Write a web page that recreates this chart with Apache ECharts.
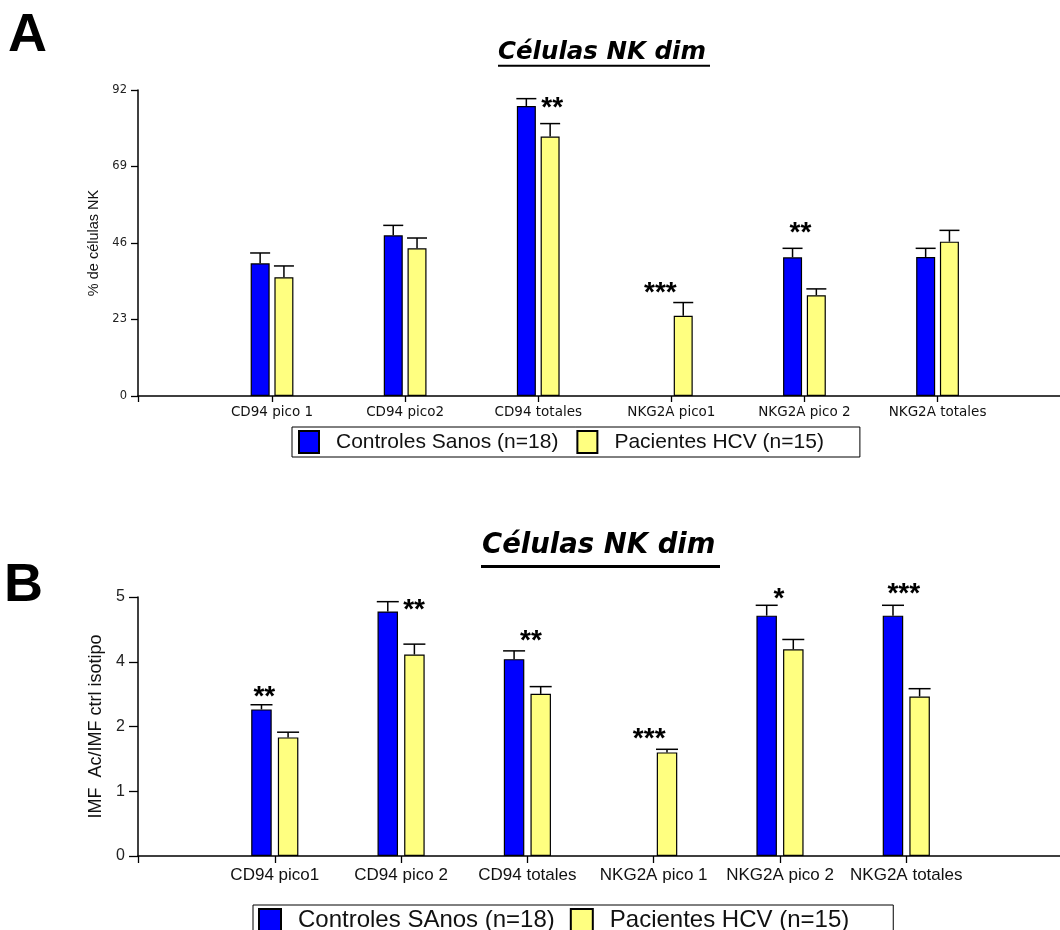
<!DOCTYPE html>
<html><head><meta charset="utf-8">
<script src="https://cdn.jsdelivr.net/npm/echarts@6/dist/echarts.min.js"></script>
<style>html,body{margin:0;padding:0;background:#fff}#c{width:1060px;height:930px}</style>
</head><body><div id="c"></div>
<script>
// ---------- Panel A data ----------
const categoriesA = ['CD94 pico 1', 'CD94 pico2', 'CD94 totales', 'NKG2A pico1', 'NKG2A pico 2', 'NKG2A totales'];
const controlsA = [39.9, 48.3, 87.2, null, 41.7, 41.8];
const controlsErrA = [3.1, 3.0, 2.2, null, 2.7, 2.6];
const patientsA = [35.7, 44.4, 78.0, 24.1, 30.3, 46.4];
const patientsErrA = [3.4, 3.1, 3.9, 4.0, 1.9, 3.4];
const sigA = ['', '', '**', '***', '**', ''];
const yTicksA = ['0', '23', '46', '69', '92'];
const namesA = ['Controles Sanos (n=18)', 'Pacientes HCV (n=15)'];

// ---------- Panel B data ----------
const categoriesB = ['CD94 pico1', 'CD94 pico 2', 'CD94 totales', 'NKG2A pico 1', 'NKG2A pico 2', 'NKG2A totales'];
const controlsB = [2.83, 4.72, 3.80, null, 4.64, 4.64];
const controlsErrB = [0.09, 0.19, 0.16, null, 0.20, 0.20];
const patientsB = [2.29, 3.89, 3.13, 2.00, 3.99, 3.08];
const patientsErrB = [0.10, 0.20, 0.14, 0.06, 0.19, 0.15];
const sigB = ['**', '**', '**', '***', '*', '***'];
const yTicksB = ['0', '1', '2', '4', '5'];
const namesB = ['Controles SAnos (n=18)', 'Pacientes HCV (n=15)'];

const title = 'Células NK dim';
const yNameA = '% de células NK';
const yNameB = 'IMF  Ac/IMF ctrl isotipo';

// ---------- layout / style ----------
const BLUE = '#0000ff', YELLOW = '#ffff80';
const SANS = "'Liberation Sans', Arial, sans-serif";
const WIDE = "'DejaVu Sans', sans-serif";

const panels = [
  { cats: categoriesA, ctrl: controlsA, ctrlErr: controlsErrA, pat: patientsA, patErr: patientsErrA,
    sig: sigA, yTicks: yTicksA, names: namesA, yName: yNameA,
    grid: { left: 138, top: 90, width: 922, height: 306 },
    xMin: -1.007, xMax: 5.92, yMax: 92, yInt: 23,
    barWidth: 19, barGap: '25%', off: 11.9, cap: 10,
    sigOff: [[0, 0], [0, 0], [14, 10], [-11, -9], [-4, -15], [0, 0]],
    xLabel: { fontFamily: WIDE, fontSize: 13.5, margin: 9 },
    yLabel: { fontFamily: WIDE, fontSize: 11.5, margin: 11 },
    yNameStyle: { fontFamily: SANS, fontSize: 14.5, gap: 36 },
    xTickLen: 6, yTickLen: 7 },
  { cats: categoriesB, ctrl: controlsB, ctrlErr: controlsErrB, pat: patientsB, patErr: patientsErrB,
    sig: sigB, yTicks: yTicksB, names: namesB, yName: yNameB,
    grid: { left: 138, top: 597, width: 922, height: 259 },
    xMin: -1.083, xMax: 6.217, yMax: 5, yInt: 1.25,
    barWidth: 20.5, barGap: '30%', off: 13.3, cap: 11,
    sigOff: [[-10.5, -7], [13, 8.4], [3.5, -10], [-4.5, -10], [-1, -6], [-2.5, -10.7]],
    xLabel: { fontFamily: SANS, fontSize: 17, margin: 11 },
    yLabel: { fontFamily: SANS, fontSize: 16, margin: 13 },
    yNameStyle: { fontFamily: SANS, fontSize: 18, gap: 33 },
    xTickLen: 7, yTickLen: 9 }
];

const grids = [], xAxes = [], yAxes = [], series = [];
panels.forEach((p, gi) => {
  grids.push(Object.assign({ containLabel: false }, p.grid));
  const idx = p.cats.map((c, i) => i);
  xAxes.push({
    type: 'value', gridIndex: gi, min: p.xMin, max: p.xMax,
    splitLine: { show: false },
    axisLine: { show: true, onZero: false, lineStyle: { color: '#000', width: 1.5 } },
    axisTick: { show: true, length: p.xTickLen, customValues: [p.xMin].concat(idx), lineStyle: { color: '#000', width: 1.3 } },
    axisLabel: { customValues: idx, formatter: v => p.cats[Math.round(v)], color: '#111',
      fontFamily: p.xLabel.fontFamily, fontSize: p.xLabel.fontSize, margin: p.xLabel.margin }
  });
  yAxes.push({
    type: 'value', gridIndex: gi, min: 0, max: p.yMax, interval: p.yInt, position: 'left',
    splitLine: { show: false },
    axisLine: { show: true, onZero: false, lineStyle: { color: '#000', width: 1.5 } },
    axisTick: { show: true, length: p.yTickLen, lineStyle: { color: '#000', width: 1.3 } },
    axisLabel: { formatter: v => p.yTicks[Math.round(v / p.yInt)], color: '#222',
      fontFamily: p.yLabel.fontFamily, fontSize: p.yLabel.fontSize, margin: p.yLabel.margin },
    name: p.yName, nameLocation: 'middle', nameRotate: 90, nameGap: p.yNameStyle.gap,
    nameTextStyle: { fontFamily: p.yNameStyle.fontFamily, fontSize: p.yNameStyle.fontSize, color: '#111' }
  });
  const mk = (vals, color, name) => ({
    type: 'bar', name, xAxisIndex: gi, yAxisIndex: gi,
    barWidth: p.barWidth, barGap: p.barGap,
    itemStyle: { color, borderColor: '#000', borderWidth: 1.2 },
    data: vals.map((v, i) => [i, v == null ? '-' : v]),
    silent: true, animation: false
  });
  series.push(mk(p.ctrl, BLUE, p.names[0]));
  series.push(mk(p.pat, YELLOW, p.names[1]));
  const errSeries = (vals, errs, dx) => ({
    type: 'custom', xAxisIndex: gi, yAxisIndex: gi, z: 5, silent: true, animation: false,
    data: vals.map((v, i) => v == null ? null : [i, v, errs[i]]).filter(d => d),
    renderItem: (params, api) => {
      const x = api.value(0), m = api.value(1), e = api.value(2);
      const p0 = api.coord([x, m]), p1 = api.coord([x, m + e]);
      const cx = p0[0] + dx;
      return { type: 'group', children: [
        { type: 'line', shape: { x1: cx, y1: p0[1], x2: cx, y2: p1[1] }, style: { stroke: '#000', lineWidth: 1.5 } },
        { type: 'line', shape: { x1: cx - p.cap, y1: p1[1], x2: cx + p.cap, y2: p1[1] }, style: { stroke: '#000', lineWidth: 1.5 } }
      ] };
    }
  });
  series.push(errSeries(p.ctrl, p.ctrlErr, -p.off));
  series.push(errSeries(p.pat, p.patErr, p.off));
  // significance asterisks anchored at the top of the highest error bar of each group
  const tops = p.cats.map((c, i) => Math.max(
    p.ctrl[i] == null ? 0 : p.ctrl[i] + p.ctrlErr[i],
    p.pat[i] == null ? 0 : p.pat[i] + p.patErr[i]));
  series.push({
    type: 'custom', xAxisIndex: gi, yAxisIndex: gi, z: 6, silent: true, animation: false,
    data: p.sig.map((s, i) => s ? [i, tops[i]] : null).filter(d => d),
    renderItem: (params, api) => {
      const i = Math.round(api.value(0));
      const pt = api.coord([i, api.value(1)]);
      const o = p.sigOff[i];
      return { type: 'text', x: pt[0] + o[0], y: pt[1] + o[1],
        style: { text: p.sig[i], font: "bold 28px 'Liberation Sans', Arial, sans-serif",
          fill: '#000', align: 'center', verticalAlign: 'middle' } };
    }
  });
});

const option = {
  backgroundColor: '#fff',
  animation: false,
  title: [
    { text: title, left: 493, top: 35, padding: 5,
      textStyle: { fontFamily: WIDE, fontStyle: 'italic', fontWeight: 'bold', fontSize: 24.5, color: '#000' } },
    { text: title, left: 477, top: 527, padding: 5,
      textStyle: { fontFamily: WIDE, fontStyle: 'italic', fontWeight: 'bold', fontSize: 27.5, color: '#000' } }
  ],
  legend: [
    { data: namesA, left: 292, top: 427, icon: 'rect', itemWidth: 20, itemHeight: 22, itemGap: 18,
      padding: [3, 36, 3, 6], borderColor: '#000', borderWidth: 1, backgroundColor: '#fff', selectedMode: false,
      textStyle: { fontFamily: SANS, fontSize: 21, color: '#111', padding: [0, 0, 0, 12] } },
    { data: namesB, left: 253, top: 905, icon: 'rect', itemWidth: 22, itemHeight: 22, itemGap: 15,
      padding: [3, 44, 3, 5], borderColor: '#000', borderWidth: 1, backgroundColor: '#fff', selectedMode: false,
      textStyle: { fontFamily: SANS, fontSize: 24, color: '#111', padding: [0, 0, 0, 12] } }
  ],
  grid: grids, xAxis: xAxes, yAxis: yAxes, series,
  graphic: [
    { type: 'rect', shape: { x: 498, y: 64.7, width: 212, height: 2 }, style: { fill: '#000' } },
    { type: 'rect', shape: { x: 481, y: 565, width: 239, height: 3 }, style: { fill: '#000' } },
    { type: 'text', left: 8, top: 9, style: { text: 'A', font: "bold 54px 'Liberation Sans', Arial, sans-serif", fill: '#000' } },
    { type: 'text', left: 4, top: 559, style: { text: 'B', font: "bold 54px 'Liberation Sans', Arial, sans-serif", fill: '#000' } }
  ]
};
const chart = echarts.init(document.getElementById('c'), null, { renderer: 'canvas' });
chart.setOption(option);
</script></body></html>
